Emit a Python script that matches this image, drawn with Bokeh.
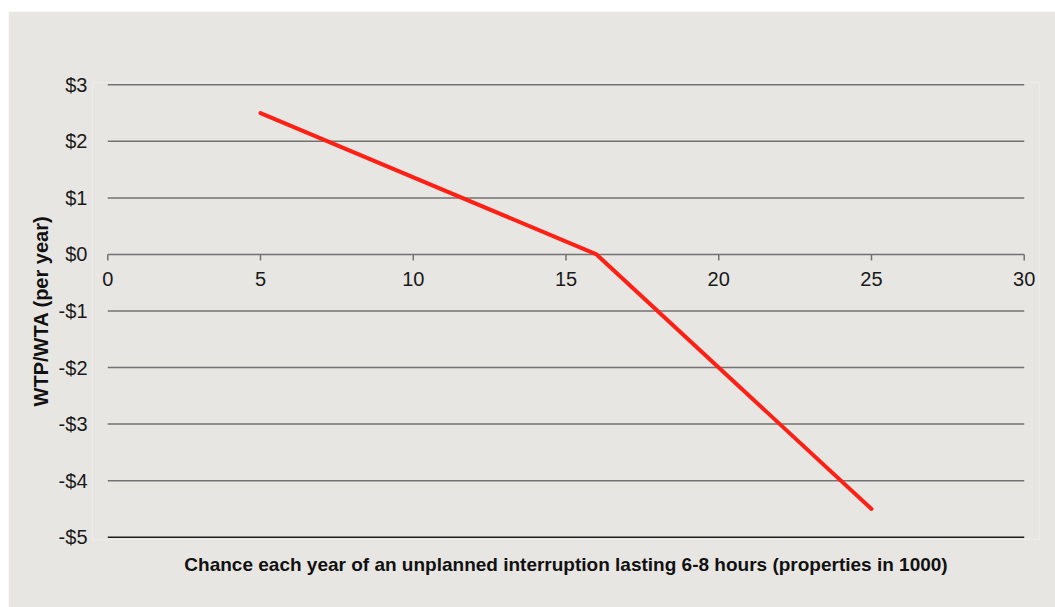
import math
from bokeh.plotting import figure
from bokeh.models import Title, FixedTicker, Spacer, LabelSet, ColumnDataSource
from bokeh.core.properties import value
from bokeh.layouts import column, row
from bokeh.embed import file_html
from bokeh.resources import INLINE

# data
x_vals = [5, 16, 25]
y_vals = [2.5, 0.0, -4.5]
x_ticks = [0, 5, 10, 15, 20, 25, 30]
x_tick_labels = ["0", "5", "10", "15", "20", "25", "30"]
y_ticks = [-5, -4, -3, -2, -1, 0, 1, 2, 3]
y_tick_labels = ["-$5", "-$4", "-$3", "-$2", "-$1", "$0", "$1", "$2", "$3"]
x_title = "Chance each year of an unplanned interruption lasting 6-8 hours (properties in 1000)"
y_title = "WTP/WTA (per year)"

BG = "#e8e6e3"
FONT = "Liberation Sans"
GRID = "#727272"
YPAD = 0.04
XPAD = 0.5

p = figure(width=1047, height=596, output_backend="svg", toolbar_location=None,
           x_range=(x_ticks[0] - XPAD, x_ticks[-1] + XPAD),
           y_range=(y_ticks[0] - YPAD, y_ticks[-1] + YPAD),
           min_border_left=84, min_border_right=16, min_border_top=71, min_border_bottom=68)
p.background_fill_color = BG
p.border_fill_color = BG
p.outline_line_color = None
p.xgrid.visible = False
p.ygrid.visible = False

# horizontal gridlines spanning the x extent of the data axis
grid_y = y_ticks[1:]
p.segment(x0=[x_ticks[0]] * len(grid_y), x1=[x_ticks[-1]] * len(grid_y), y0=grid_y, y1=grid_y,
          line_color=GRID, line_width=1.5)
# darker bottom line
p.segment(x0=[x_ticks[0]], x1=[x_ticks[-1]], y0=[y_ticks[0]], y1=[y_ticks[0]],
          line_color="#1e1e1e", line_width=1.5)

# horizontal axis at y = 0: tick marks and labels
p.ray(x=x_ticks, y=[0] * len(x_ticks), length=6, length_units="screen", angle=-math.pi / 2,
      line_color=GRID, line_width=1.5)
tick_src = ColumnDataSource(dict(x=x_ticks, y=[0] * len(x_ticks), t=x_tick_labels))
p.add_layout(LabelSet(x="x", y="y", text="t", source=tick_src, text_align="center",
                      text_baseline="middle", y_offset=-25, text_font=value(FONT),
                      text_font_size="20px", text_color="#1a1a1a"))

p.line(x_vals, y_vals, line_color="#ff2015", line_width=4, line_cap="round")

p.xaxis.visible = False

ya = p.yaxis[0]
ya.ticker = FixedTicker(ticks=y_ticks)
ya.major_label_overrides = {t: l for t, l in zip(y_ticks, y_tick_labels)}
ya.axis_line_color = None
ya.major_tick_line_color = None
ya.minor_tick_line_color = None
ya.major_tick_out = 0
ya.major_tick_in = 0
ya.major_label_standoff = 5
ya.major_label_text_font = FONT
ya.major_label_text_font_size = "20px"
ya.major_label_text_color = "#1a1a1a"
ya.axis_label = y_title
ya.axis_label_text_font = FONT
ya.axis_label_text_font_style = "bold"
ya.axis_label_text_font_size = "20px"
ya.axis_label_text_color = "#111111"
ya.axis_label_standoff = 4

p.add_layout(Title(text=x_title, align="center", text_font=FONT, text_font_style="bold",
                   text_font_size="19px", text_color="#111111", standoff=24), "below")

layout = row(Spacer(width=8, height=607), column(Spacer(height=11, width=1047), p, spacing=0), spacing=0)
open("out.html", "w").write(file_html(layout, INLINE))
